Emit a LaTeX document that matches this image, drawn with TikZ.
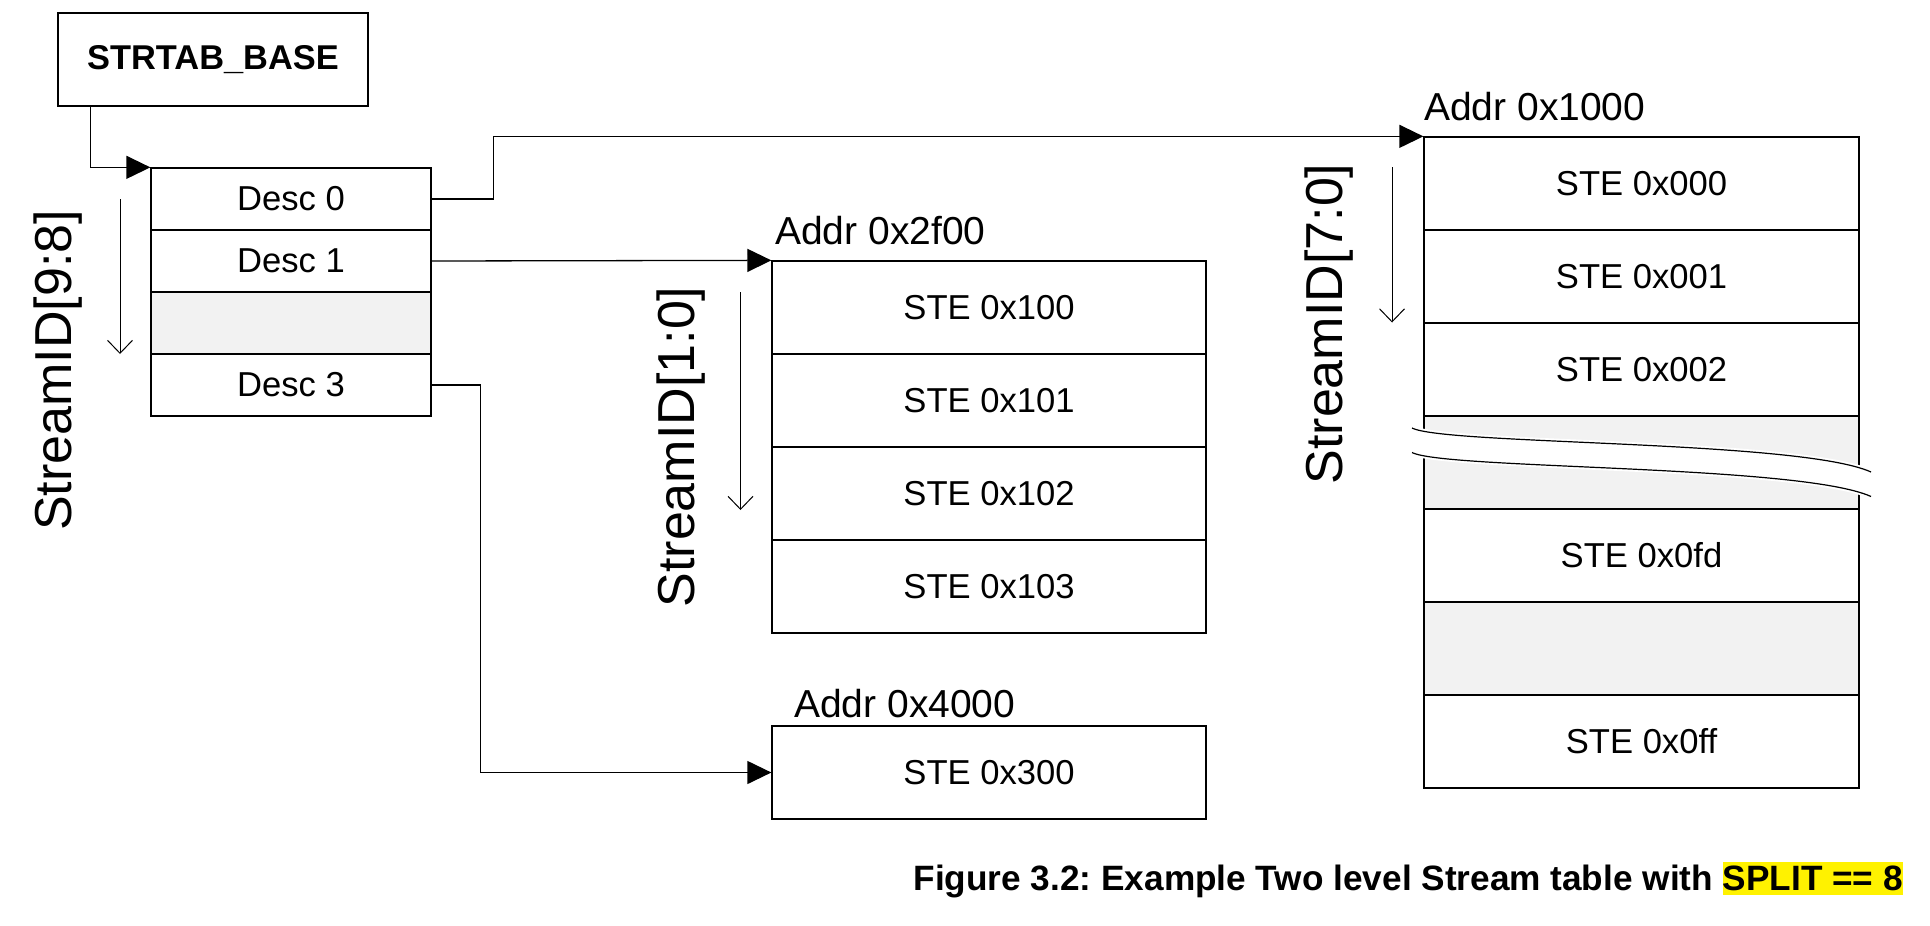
\documentclass[tikz,border=0pt]{standalone}
\usepackage{fontspec}
\setmainfont{Liberation Sans}
\usetikzlibrary{arrows.meta}
\definecolor{rowgray}{HTML}{F2F2F2}
\definecolor{hl}{HTML}{FFF200}
\frenchspacing
\begin{document}
\begin{tikzpicture}[x=1pt,y=-1pt,
  lw/.style={line width=1.3pt},
  basebox/.style={draw=black, lw, minimum width=310pt, minimum height=93pt, inner sep=0pt, font=\bfseries\fontsize{34.4}{40}\selectfont},
  desccell/.style={draw=black, lw, minimum width=280pt, minimum height=62pt, inner sep=0pt, font=\fontsize{34.6}{40}\selectfont},
  stecell/.style={draw=black, lw, minimum width=434pt, minimum height=93pt, inner sep=0pt, font=\fontsize{34.6}{40}\selectfont},
  grayfill/.style={fill=rowgray},
  addrlabel/.style={anchor=west, inner sep=0pt, font=\fontsize{39}{44}\selectfont},
  sidlabel/.style={rotate=90, inner sep=0pt, font=\fontsize{52}{60}\selectfont},
  conn/.style={draw=black, lw, -{Triangle[length=24pt,width=23pt]}},
  idxarrow/.style={draw=black, line width=1pt, -{Straight Barb[length=13pt,width=25pt,line width=1pt]}},
  breakline/.style={draw=black, line width=1.2pt},
  breakhalo/.style={draw=white, line width=5pt}
]
\useasboundingbox (0,0) rectangle (1930,926);

% STRTAB_BASE
\node[basebox] (base) at (213,59.5) {STRTAB\_BASE};

% Level-1 descriptors
\node[desccell] (d0) at (291,199) {Desc 0};
\node[desccell] (d1) at (291,261) {Desc 1};
\node[desccell, grayfill] (d2) at (291,323) {};
\node[desccell] (d3) at (291,385) {Desc 3};

% Middle table
\node[stecell] (m0) at (989,307.5) {STE 0x100};
\node[stecell] (m1) at (989,400.5) {STE 0x101};
\node[stecell] (m2) at (989,493.5) {STE 0x102};
\node[stecell] (m3) at (989,586.5) {STE 0x103};

% Bottom table
\node[stecell] (b0) at (989,772.5) {STE 0x300};

% Right table
\node[stecell, minimum width=435pt] (r0) at (1641.5,183.5) {STE 0x000};
\node[stecell, minimum width=435pt] (r1) at (1641.5,276.5) {STE 0x001};
\node[stecell, minimum width=435pt] (r2) at (1641.5,369.5) {STE 0x002};
\node[stecell, minimum width=435pt, grayfill] (r3) at (1641.5,462.5) {};
\node[stecell, minimum width=435pt] (r4) at (1641.5,555.5) {STE 0x0fd};
\node[stecell, minimum width=435pt, grayfill] (r5) at (1641.5,648.5) {};
\node[stecell, minimum width=435pt] (r6) at (1641.5,741.5) {STE 0x0ff};

% Break marks in the right table
\fill[white] (1412,428) .. controls (1445,445) and (1800,440) .. (1871,472)
  -- (1871,496.5) .. controls (1800,464.5) and (1445,469.5) .. (1412,452.5) -- cycle;
\draw[breakhalo] (1412,428) .. controls (1445,445) and (1800,440) .. (1871,472);
\draw[breakhalo] (1412,452.5) .. controls (1445,469.5) and (1800,464.5) .. (1871,496.5);
\draw[breakline] (1412,428) .. controls (1445,445) and (1800,440) .. (1871,472);
\draw[breakline] (1412,452.5) .. controls (1445,469.5) and (1800,464.5) .. (1871,496.5);

% Address labels
\node[addrlabel] (a1000) at (1424,107) {Addr 0x1000};
\node[addrlabel] (a2f00) at (775,231) {Addr 0x2f00};
\node[addrlabel] (a4000) at (794,704) {Addr 0x4000};

% StreamID labels
\node[sidlabel] (sid98) at (58,370.5) {StreamID[9:8]};
\node[sidlabel] (sid10) at (680.7,447) {StreamID[1:0]};
\node[sidlabel] (sid70) at (1329,324) {StreamID[7:0]};

% Index direction arrows
\coordinate (i98a) at (120,199);
\coordinate (i98b) at (120,354);
\coordinate (i10a) at (740.5,292);
\coordinate (i10b) at (740.5,510);
\coordinate (i70a) at (1392,167);
\coordinate (i70b) at (1392,322.5);
\draw[idxarrow] (i98a) -- (i98b);
\draw[idxarrow] (i10a) -- (i10b);
\draw[idxarrow] (i70a) -- (i70b);

% Connectors
\draw[conn] ([xshift=33pt]base.south west) |- (d0.north west);
\draw[conn] (d0.east) -- ++(62,0) |- (r0.north west);
\draw[conn] (d1.east) -- (m0.north west);
\draw[conn] (d3.east) -- ++(49,0) |- (b0.west);

% Caption
\node[anchor=base east, inner sep=0pt, font=\bfseries\fontsize{35.2}{40}\selectfont] (caption) at (1903,890.5)
  {Figure 3.2: Example Two level Stream table with {\setlength{\fboxsep}{0pt}\colorbox{hl}{\rule[-4.5pt]{0pt}{33pt}SPLIT == 8}}};
\end{tikzpicture}
\end{document}
